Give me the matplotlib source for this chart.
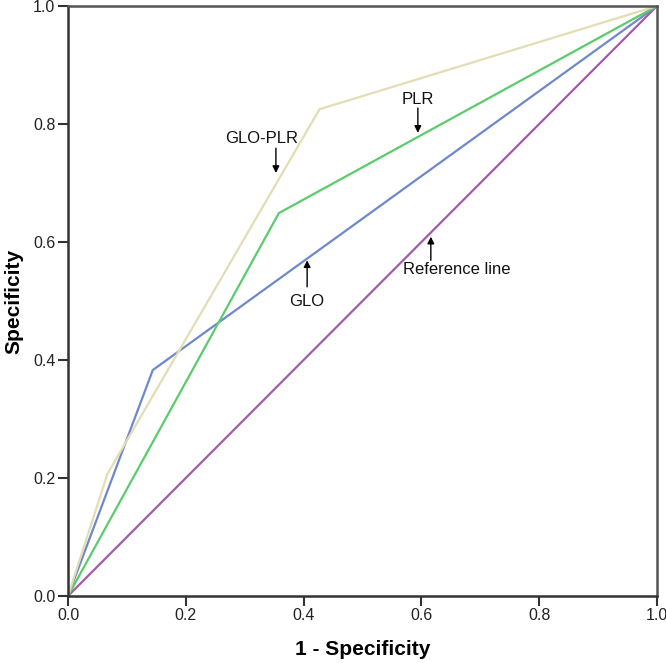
import matplotlib
matplotlib.use("Agg")
import matplotlib.pyplot as plt

plt.rcParams['font.family'] = ['Liberation Sans', 'DejaVu Sans']

# ROC curve points
glo_plr_x = [0.0, 0.067, 0.427, 1.0]
glo_plr_y = [0.0, 0.207, 0.825, 1.0]
plr_x = [0.0, 0.358, 1.0]
plr_y = [0.0, 0.649, 1.0]
glo_x = [0.0, 0.144, 1.0]
glo_y = [0.0, 0.383, 1.0]
ref_x = [0.0, 1.0]
ref_y = [0.0, 1.0]

ticks = [0.0, 0.2, 0.4, 0.6, 0.8, 1.0]
tick_labels = ["0.0", "0.2", "0.4", "0.6", "0.8", "1.0"]

# (label, text position, arrow tail, arrow head)
annotations = [
    ("GLO-PLR", (0.329, 0.775), (0.353, 0.759), (0.353, 0.717)),
    ("PLR", (0.594, 0.841), (0.594, 0.827), (0.594, 0.785)),
    ("GLO", (0.405, 0.499), (0.406, 0.524), (0.406, 0.569)),
    ("Reference line", (0.660, 0.553), (0.616, 0.569), (0.616, 0.609)),
]

fig = plt.figure(figsize=(6.66, 6.63), dpi=100)
ax = fig.add_axes([68 / 666, 1 - 596 / 663, 589 / 666, 590 / 663])

ax.plot(ref_x, ref_y, color='#A35AAB', lw=1.6)
ax.plot(glo_x, glo_y, color='#6F88CC', lw=1.6)
ax.plot(plr_x, plr_y, color='#5CCB6C', lw=1.6)
ax.plot(glo_plr_x, glo_plr_y, color='#E2DDB3', lw=1.6)

for label, tpos, tail, head in annotations:
    ax.annotate("", xy=head, xytext=tail,
                arrowprops=dict(arrowstyle='-|>', color='black', lw=1.0,
                                mutation_scale=10, shrinkA=0, shrinkB=0))
    ax.text(tpos[0], tpos[1], label, ha='center', va='center', fontsize=12,
            color='#111111')

ax.set_xlim(0, 1)
ax.set_ylim(0, 1)
ax.set_xticks(ticks)
ax.set_xticklabels(tick_labels)
ax.set_yticks(ticks)
ax.set_yticklabels(tick_labels)
ax.tick_params(labelsize=11.5, length=7, width=1.5, pad=2, color='#333333', labelcolor='#222222')
for spine in ax.spines.values():
    spine.set_linewidth(1.8)
    spine.set_color('#555555')
ax.spines['left'].set_color('#333333')
ax.spines['bottom'].set_color('#333333')

ax.set_xlabel("1 - Specificity", fontsize=15, fontweight='bold', labelpad=12)
ax.set_ylabel("Specificity", fontsize=15, fontweight='bold', labelpad=7)

plt.savefig("out.png", dpi=100)
plt.close()
